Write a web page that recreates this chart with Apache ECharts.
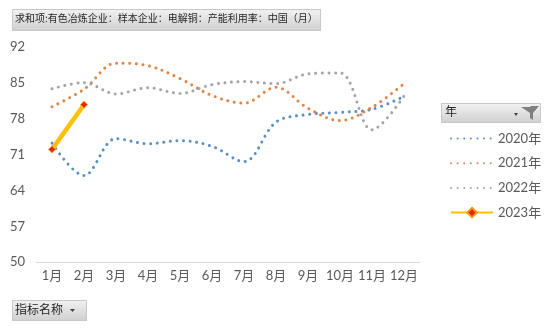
<!DOCTYPE html>
<html>
<head>
<meta charset="utf-8">
<script src="https://cdn.jsdelivr.net/npm/echarts@6/dist/echarts.min.js"></script>
<style>
  html, body { margin: 0; padding: 0; background: #fff; }
  #chart { width: 550px; height: 330px; }
</style>
</head>
<body>
<div id="chart"></div>
<script>
// Months on the category axis
const months = ['1月', '2月', '3月', '4月', '5月', '6月', '7月', '8月', '9月', '10月', '11月', '12月'];

// Copper electrolysis capacity utilisation (%), one array per year
const y2020 = [73.2, 66.9, 74.1, 73.1, 73.7, 72.6, 69.6, 77.3, 78.8, 79.2, 79.8, 82.3];
const y2021 = [80.3, 83.7, 88.8, 88.3, 85.8, 82.5, 81.0, 84.1, 80.0, 77.6, 80.2, 84.8];
const y2022 = [83.8, 85.0, 82.8, 84.0, 82.9, 84.6, 85.2, 84.8, 86.7, 86.9, 75.8, 82.4];
const y2023 = [72.0, 80.7];

const seriesNames = ['2020年', '2021年', '2022年', '2023年'];

// Value axis ticks
const yMin = 50, yMax = 92, yStep = 7;

const FONT = 'Lato, "Noto Sans CJK SC", sans-serif';
const CJK = '"Noto Sans CJK SC", sans-serif';
const textGray = '#595959';

const dotted = (color) => ({
  color: color,
  width: 3,
  type: [0.01, 6.6],
  cap: 'round'
});

const chart = echarts.init(document.getElementById('chart'), null, { renderer: 'canvas' });

const buttonFill = new echarts.graphic.LinearGradient(0, 0, 0, 1, [
  { offset: 0, color: '#f2f2f2' },
  { offset: 1, color: '#cfcfcf' }
]);

// dotted years show only the line in the legend, no marker
const hiddenMarker = { opacity: 0 };

chart.setOption({
  animation: false,
  backgroundColor: '#ffffff',
  textStyle: { fontFamily: FONT },
  grid: { left: 36, right: 130, top: 46.7, bottom: 67.7, containLabel: false },
  xAxis: {
    type: 'category',
    data: months,
    boundaryGap: true,
    axisLine: { lineStyle: { color: '#d9d9d9', width: 1 } },
    axisTick: { show: false },
    axisLabel: { color: textGray, fontSize: 13, margin: 7, fontFamily: FONT, interval: 0 }
  },
  yAxis: {
    type: 'value',
    min: yMin,
    max: yMax,
    interval: yStep,
    axisLine: { show: false },
    axisTick: { show: false },
    splitLine: { show: false },
    axisLabel: { color: textGray, fontSize: 13, margin: 11, fontFamily: FONT }
  },
  legend: {
    orient: 'vertical',
    left: 445,
    top: 127,
    itemWidth: 42,
    itemHeight: 12,
    itemGap: 11.7,
    textStyle: { color: textGray, fontSize: 13, fontFamily: FONT },
    data: [
      { name: seriesNames[0], itemStyle: hiddenMarker },
      { name: seriesNames[1], itemStyle: hiddenMarker },
      { name: seriesNames[2], itemStyle: hiddenMarker },
      { name: seriesNames[3] }
    ]
  },
  series: [
    { name: seriesNames[0], type: 'line', data: y2020, smooth: 0.35, symbol: 'none', lineStyle: dotted('#5b90c2'), itemStyle: { color: '#5b90c2' } },
    { name: seriesNames[1], type: 'line', data: y2021, smooth: 0.35, symbol: 'none', lineStyle: dotted('#e08448'), itemStyle: { color: '#e08448' } },
    { name: seriesNames[2], type: 'line', data: y2022, smooth: 0.35, symbol: 'none', lineStyle: dotted('#a5a5a5'), itemStyle: { color: '#a5a5a5' } },
    {
      name: seriesNames[3], type: 'line', data: y2023, smooth: 0.35,
      symbol: 'diamond', symbolSize: 7, showSymbol: true,
      lineStyle: { color: '#ffc000', width: 4.5 },
      itemStyle: { color: '#e5261b', borderColor: '#f29a1a', borderWidth: 1 }
    }
  ],
  graphic: [
    // field button above the plot
    {
      type: 'rect', left: 12, top: 9, shape: { width: 308, height: 21 },
      style: { fill: buttonFill, stroke: '#c8c8c8', lineWidth: 1 }
    },
    {
      type: 'text', left: 15, top: 13,
      style: { text: '求和项:有色冶炼企业：样本企业：电解铜：产能利用率：中国（月）', fill: '#262626', font: '10px ' + CJK }
    },
    // legend header with filter
    {
      type: 'rect', left: 441, top: 103, shape: { width: 99, height: 19 },
      style: { fill: buttonFill, stroke: '#c8c8c8', lineWidth: 1 }
    },
    {
      type: 'text', left: 445, top: 105,
      style: { text: '年', fill: '#262626', font: '12px ' + CJK }
    },
    {
      type: 'polygon', shape: { points: [[521, 107], [530, 107], [531, 106], [539, 106], [533, 113], [533, 120], [530, 118], [530, 113]] },
      style: { fill: '#7f7f7f' }
    },
    {
      type: 'polygon', shape: { points: [[514, 113], [518, 113], [516, 116]] },
      style: { fill: '#404040' }
    },
    // axis field button below the plot
    {
      type: 'rect', left: 12, top: 300, shape: { width: 74, height: 20 },
      style: { fill: buttonFill, stroke: '#c8c8c8', lineWidth: 1 }
    },
    {
      type: 'text', left: 15, top: 303,
      style: { text: '指标名称', fill: '#262626', font: '12px ' + CJK }
    },
    {
      type: 'polygon', shape: { points: [[70, 309], [75, 309], [72.5, 312]] },
      style: { fill: '#404040' }
    }
  ]
});
</script>
</body>
</html>
